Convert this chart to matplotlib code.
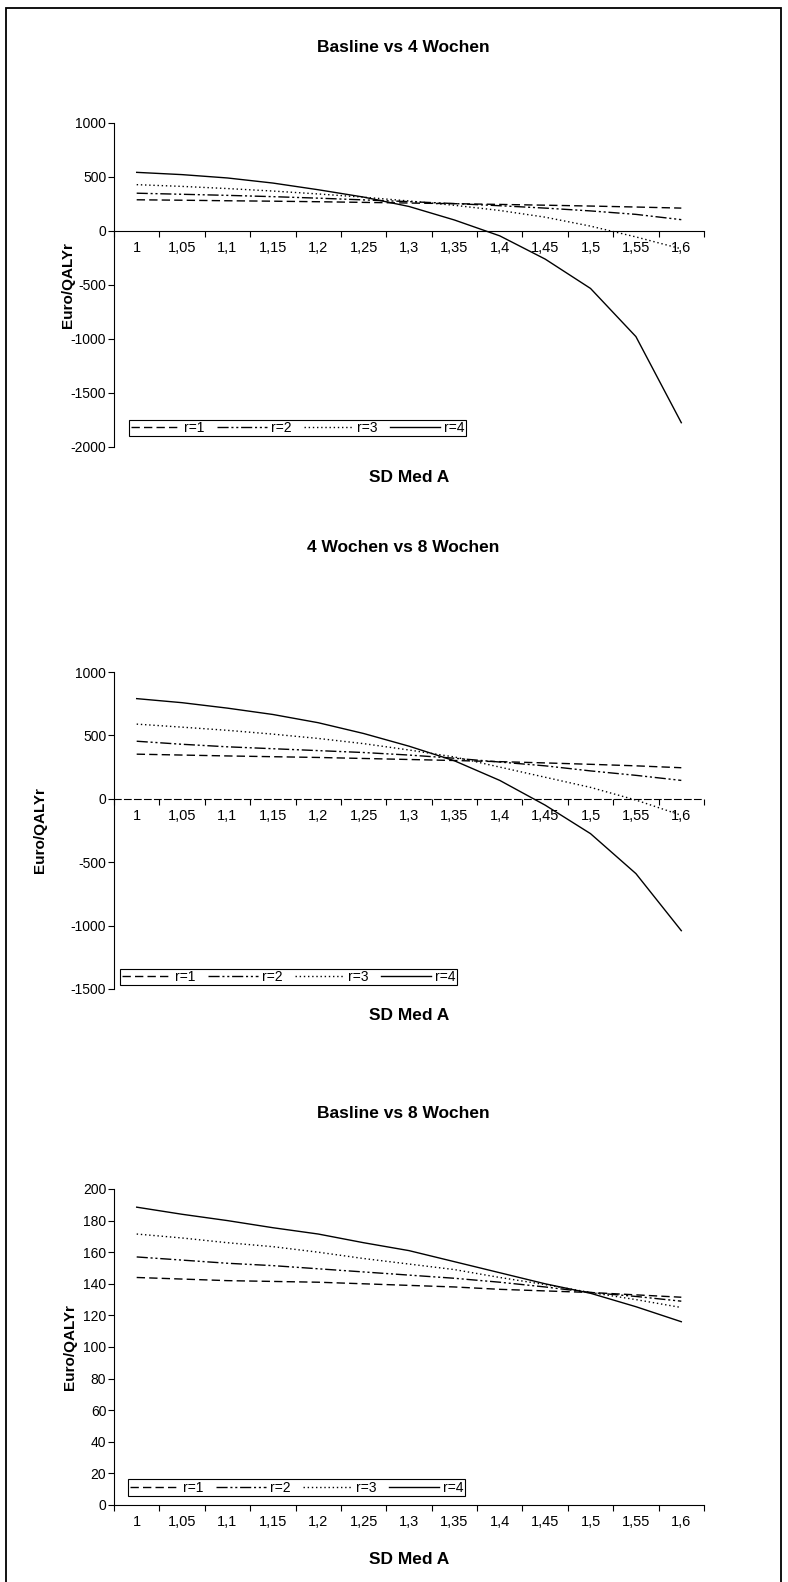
import matplotlib.pyplot as plt
import numpy as np

plt.rcParams['font.family'] = ['Liberation Sans', 'DejaVu Sans']
plt.rcParams['axes.unicode_minus'] = False

sd_labels = ['1', '1,05', '1,1', '1,15', '1,2', '1,25', '1,3',
             '1,35', '1,4', '1,45', '1,5', '1,55', '1,6']
series_names = ['r=1', 'r=2', 'r=3', 'r=4']

# Basline vs 4 Wochen
b4_r1 = [289, 285, 280, 276, 271, 265, 259, 253, 246, 239, 231, 222, 212]
b4_r2 = [350, 340, 330, 318, 304, 288, 272, 254, 234, 212, 186, 154, 105]
b4_r3 = [429, 413, 393, 370, 343, 313, 278, 238, 190, 128, 45, -55, -165]
b4_r4 = [543, 522, 491, 444, 382, 314, 227, 102, -45, -260, -532, -978, -1775]

# 4 Wochen vs 8 Wochen
w48_r1 = [352, 345, 338, 332, 326, 318, 310, 302, 293, 283, 272, 260, 245]
w48_r2 = [454, 430, 410, 395, 380, 365, 345, 320, 290, 260, 220, 185, 145]
w48_r3 = [589, 565, 540, 510, 476, 435, 385, 330, 250, 170, 90, -10, -130]
w48_r4 = [790, 758, 715, 665, 600, 515, 415, 300, 145, -50, -275, -590, -1040]

# Basline vs 8 Wochen
b8_r1 = [144, 143, 142, 141.5, 141, 140, 139, 138, 136.5, 135.5, 134.5, 133, 131.5]
b8_r2 = [157, 155, 153, 151.5, 149.5, 147.5, 145.5, 143.5, 141, 138, 134.5, 132, 129]
b8_r3 = [171.5, 169, 166, 163.5, 160, 156, 152.5, 149, 144, 139.5, 134.5, 130, 125]
b8_r4 = [188.5, 184, 180, 175.5, 171.5, 166, 161, 154, 147, 140, 134, 125.5, 116]

W, H = 788, 1582
fig = plt.figure(figsize=(W / 100, H / 100), dpi=100)


def px_rect(x0, y0, x1, y1):
    return [x0 / W, 1 - y1 / H, (x1 - x0) / W, (y1 - y0) / H]


line_styles = [(0, (6, 3)), (0, (8, 2, 1.5, 2, 1.5, 2)), (0, (1, 2)), '-']


def draw_panel(rect, title, title_y, series, ylim, ystep, xlabel_y, ylabel_x,
               legend_box, dashed_axis=False):
    ax = fig.add_axes(px_rect(*rect))
    x = np.arange(len(sd_labels))
    lines = []
    for vals, ls, name in zip(series, line_styles, series_names):
        ln, = ax.plot(x, vals, color='black', lw=1.0, linestyle=ls, label=name)
        lines.append(ln)

    ax.set_xlim(-0.5, len(sd_labels) - 0.5)
    ax.set_ylim(*ylim)
    ax.set_yticks(np.arange(ylim[0], ylim[1] + ystep / 2, ystep))
    ax.tick_params(axis='y', direction='out', length=4, width=0.8, pad=1.5,
                   labelsize=10)

    # category boundaries get the tick marks, labels sit at the centres
    ax.set_xticks(np.arange(-0.5, len(sd_labels), 1))
    ax.set_xticklabels([])
    ax.set_xticks(x, minor=True)
    ax.set_xticklabels(sd_labels, minor=True)
    ax.tick_params(axis='x', which='major', direction='out', length=4, width=0.8)
    ax.tick_params(axis='x', which='minor', length=0, pad=7, labelsize=10.5)

    for s in ['top', 'right']:
        ax.spines[s].set_visible(False)
    ax.spines['bottom'].set_position(('data', 0))
    ax.spines['left'].set_linewidth(0.8)
    ax.spines['bottom'].set_linewidth(0.8)
    if dashed_axis:
        ax.spines['bottom'].set_linestyle((0, (6, 3)))

    fig.text(403 / W, 1 - title_y / H, title, ha='center', va='center',
             fontsize=12.5, fontweight='bold')
    fig.text((rect[0] + rect[2]) / 2 / W, 1 - xlabel_y / H, 'SD Med A',
             ha='center', va='center', fontsize=12.5, fontweight='bold')
    fig.text(ylabel_x / W, 1 - (rect[1] + rect[3]) / 2 / H, 'Euro/QALYr',
             ha='center', va='center', rotation=90, fontsize=11,
             fontweight='bold')

    lx0, ly0, lx1, ly1 = legend_box
    leg = ax.legend(handles=lines, ncol=4, loc='center',
                    bbox_to_anchor=((lx0 + lx1) / 2 / W, 1 - (ly0 + ly1) / 2 / H),
                    bbox_transform=fig.transFigure, fontsize=10,
                    handlelength=3.6, handletextpad=0.25, columnspacing=0.9,
                    borderpad=0.1, fancybox=False, framealpha=1)
    leg.get_frame().set_edgecolor('black')
    leg.get_frame().set_linewidth(0.8)
    return ax


draw_panel((114, 123, 704, 447), 'Basline vs 4 Wochen', 48,
           [b4_r1, b4_r2, b4_r3, b4_r4], (-2000, 1000), 500, 478, 68,
           (126, 420, 469, 436))
draw_panel((114, 672, 704, 989), '4 Wochen vs 8 Wochen', 547,
           [w48_r1, w48_r2, w48_r3, w48_r4], (-1500, 1000), 500, 1015, 40,
           (119, 969, 458, 985), dashed_axis=True)
draw_panel((114, 1189, 704, 1505), 'Basline vs 8 Wochen', 1114,
           [b8_r1, b8_r2, b8_r3, b8_r4], (0, 200), 20, 1560, 70,
           (126, 1479, 467, 1496))

# outer frame around the whole sheet
fig.add_artist(plt.Rectangle((6 / W, -0.01), (781 - 6) / W, 1 - 8 / H + 0.01,
                             transform=fig.transFigure, fill=False,
                             lw=1.3, ec='black'))

fig.savefig('out.png', dpi=100)
